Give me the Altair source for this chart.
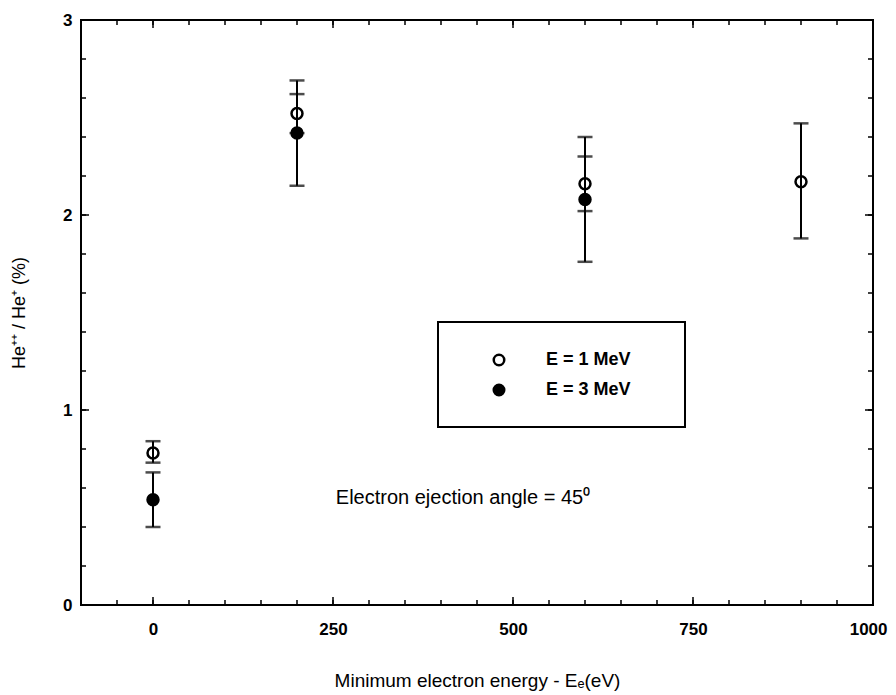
import altair as alt
import pandas as pd

# ---- data ----
energy_1 = [0, 200, 600, 900]
ratio_1 = [0.78, 2.52, 2.16, 2.17]
lo_1 = [0.73, 2.42, 2.02, 1.88]
hi_1 = [0.84, 2.62, 2.30, 2.47]

energy_3 = [0, 200, 600]
ratio_3 = [0.54, 2.42, 2.08]
lo_3 = [0.40, 2.15, 1.76]
hi_3 = [0.68, 2.69, 2.40]

series_names = ["E = 1 MeV", "E = 3 MeV"]
x_labels = [0, 250, 500, 750, 1000]
y_labels = [0, 1, 2, 3]
x_minor = list(range(-50, 1000, 50))
y_minor = [round(v * 0.2, 1) for v in range(1, 15)]
x_major = [0, 250, 500, 750]
y_major = [1, 2]

W, H = 792, 585
FONT = "Liberation Sans"

rows = []
for e, r, lo, hi in zip(energy_1, ratio_1, lo_1, hi_1):
    rows.append({"E": e, "R": r, "lo": lo, "hi": hi, "s": series_names[0]})
for e, r, lo, hi in zip(energy_3, ratio_3, lo_3, hi_3):
    rows.append({"E": e, "R": r, "lo": lo, "hi": hi, "s": series_names[1]})
df = pd.DataFrame(rows)

xs = alt.Scale(domain=[-100, 1000], nice=False, zero=False)
ys = alt.Scale(domain=[0, 3], nice=False, zero=False)

base = alt.Chart(df)

xaxis = alt.Axis(values=x_labels, format="d", ticks=False, tickSize=0, domain=False, grid=False,
                 labelFont=FONT, labelFontWeight="bold", labelFontSize=17,
                 labelPadding=16, title="Minimum electron energy - Eₑ(eV)",
                 titleFont=FONT, titleFontWeight="normal", titleFontSize=19,
                 titlePadding=34, labelColor="black", titleColor="black",
                 labelFlush=True, labelFlushOffset=14)
yaxis = alt.Axis(values=y_labels, format="d", ticks=False, tickSize=0, domain=False, grid=False,
                 labelFont=FONT, labelFontWeight="bold", labelFontSize=17,
                 labelPadding=9, title="He⁺⁺ / He⁺ (%)", titleFont=FONT,
                 titleFontWeight="normal", titleFontSize=18, titlePadding=34,
                 labelColor="black", titleColor="black", labelFlush=False)

bars = base.mark_rule(color="black", strokeWidth=2).encode(
    x=alt.X("E:Q", scale=xs, axis=xaxis),
    y=alt.Y("lo:Q", scale=ys, axis=yaxis),
    y2="hi:Q",
)
cap_lo = base.mark_tick(color="black", orient="horizontal", size=15, thickness=2.5).encode(
    x=alt.X("E:Q", scale=xs), y=alt.Y("lo:Q", scale=ys))
cap_hi = base.mark_tick(color="black", orient="horizontal", size=15, thickness=2.5).encode(
    x=alt.X("E:Q", scale=xs), y=alt.Y("hi:Q", scale=ys))

points = base.mark_point(shape="circle", size=120, strokeWidth=2.5, filled=False,
                         stroke="black", opacity=1).encode(
    x=alt.X("E:Q", scale=xs),
    y=alt.Y("R:Q", scale=ys),
    fill=alt.Fill("s:N", scale=alt.Scale(domain=series_names, range=["transparent", "black"]),
                  legend=alt.Legend(title=None, orient="none", legendX=409, legendY=331,
                                    labelFont=FONT, labelFontSize=18, labelFontWeight="bold",
                                    labelColor="black", symbolType="circle", symbolSize=110,
                                    symbolStrokeColor="black", symbolStrokeWidth=2.5,
                                    labelOffset=38, rowPadding=8)),
)

# legend frame and plot border (pixel positions in the plot area)
frame = alt.Chart(pd.DataFrame({"k": [0]})).mark_rect(
    fill=None, stroke="black", strokeWidth=2).encode(
    x=alt.value(357), x2=alt.value(604), y=alt.value(302), y2=alt.value(407))
border = alt.Chart(pd.DataFrame({"k": [0]})).mark_rect(
    fill=None, stroke="black", strokeWidth=2).encode(
    x=alt.value(0), x2=alt.value(W), y=alt.value(0), y2=alt.value(H))

note = alt.Chart(pd.DataFrame({"t": ["Electron ejection angle = 45⁰"]})).mark_text(
    font=FONT, fontSize=20, color="black", align="center", baseline="middle").encode(
    text="t:N", x=alt.value(382), y=alt.value(478))

# inward ticks on all four sides
tx = pd.DataFrame({"t": x_minor})
txm = pd.DataFrame({"t": x_major})
ty = pd.DataFrame({"t": y_minor})
tym = pd.DataFrame({"t": y_major})

def xticks(d, ln):
    c = alt.Chart(d).mark_rule(color="black", strokeWidth=1.5)
    return (c.encode(x=alt.X("t:Q", scale=xs), y=alt.value(H), y2=alt.value(H - ln)) +
            c.encode(x=alt.X("t:Q", scale=xs), y=alt.value(0), y2=alt.value(ln)))

def yticks(d, ln):
    c = alt.Chart(d).mark_rule(color="black", strokeWidth=1.5)
    return (c.encode(y=alt.Y("t:Q", scale=ys), x=alt.value(0), x2=alt.value(ln)) +
            c.encode(y=alt.Y("t:Q", scale=ys), x=alt.value(W), x2=alt.value(W - ln)))

chart = alt.layer(
    bars, cap_lo, cap_hi, points, frame, border, note,
    xticks(tx, 5), xticks(txm, 8), yticks(ty, 5), yticks(tym, 8),
).properties(
    width=W, height=H,
    padding={"left": 73, "top": 12, "right": 15, "bottom": 89},
    autosize=alt.AutoSizeParams(type="none"),
).configure_view(
    strokeWidth=0
).configure(background="white")

chart.save("out.html", embed_options={"renderer": "svg", "actions": False})
